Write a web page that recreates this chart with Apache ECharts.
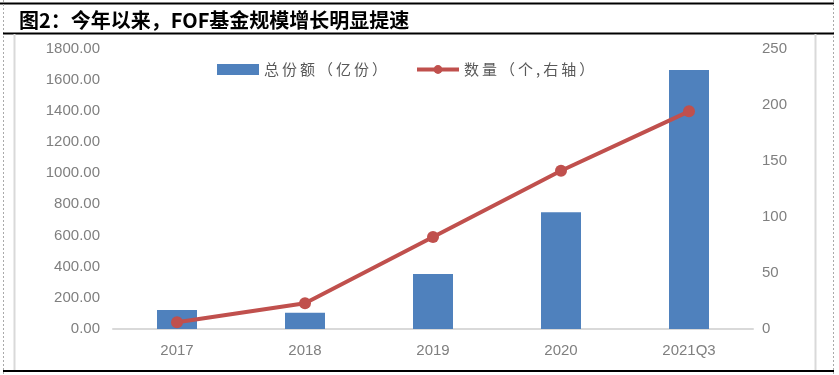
<!DOCTYPE html>
<html><head><meta charset="utf-8">
<script src="https://cdn.jsdelivr.net/npm/echarts@6/dist/echarts.min.js"></script>
<style>html,body{margin:0;padding:0;background:#fff}#c{width:839px;height:375px}</style>
</head><body><div id="c"></div>
<script>
const categories = ['2017', '2018', '2019', '2020', '2021Q3'];
const totalShares = [122, 104, 353, 750, 1662];
const fundCount = [6, 23, 82, 141, 194];
const leftTicks = [0, 200, 400, 600, 800, 1000, 1200, 1400, 1600, 1800];
const rightTicks = [0, 50, 100, 150, 200, 250];

const chart = echarts.init(document.getElementById('c'));
const labelFont = {color: '#7f7f7f', fontSize: 15, fontFamily: 'Liberation Sans'};
const spaced = s => Array.from(s).join('\u2009');
chart.setOption({
  animation: false,
  title: {
    text: '图2：今年以来，FOF基金规模增长明显提速',
    left: 14, top: 5,
    textStyle: {fontFamily: 'Noto Sans CJK SC', fontSize: 20, fontWeight: 'bold', color: '#000'}
  },
  legend: {
    top: 57, left: 212, itemGap: 28,
    textStyle: {fontFamily: 'Noto Sans CJK SC', fontSize: 15, color: '#595959'},
    formatter: name => spaced(name),
    data: [
      {name: '总份额（亿份）', icon: 'rect', itemStyle: {color: '#4F81BD'}},
      {name: '数量（个,右轴）', lineStyle: {width: 4, color: '#C0504D'}}
    ],
    itemWidth: 42, itemHeight: 11
  },
  grid: {left: 113, right: 86, top: 48.5, bottom: 46},
  xAxis: {
    type: 'category', data: categories,
    axisLine: {lineStyle: {color: '#d9d9d9', width: 2}},
    axisTick: {show: false},
    axisLabel: Object.assign({margin: 14}, labelFont)
  },
  yAxis: [
    {type: 'value', min: leftTicks[0], max: leftTicks[leftTicks.length-1], interval: 200,
     axisLine: {show: false}, splitLine: {show: false},
     axisLabel: Object.assign({margin: 13, formatter: v => v.toFixed(2)}, labelFont)},
    {type: 'value', min: rightTicks[0], max: rightTicks[rightTicks.length-1], interval: 50,
     axisLine: {show: false}, splitLine: {show: false},
     axisLabel: Object.assign({margin: 9}, labelFont)}
  ],
  series: [
    {name: '总份额（亿份）', type: 'bar', data: totalShares, barWidth: 40,
     itemStyle: {color: '#4F81BD'}},
    {name: '数量（个,右轴）', type: 'line', yAxisIndex: 1, data: fundCount,
     symbol: 'circle', symbolSize: 12,
     lineStyle: {color: '#C0504D', width: 4}, itemStyle: {color: '#C0504D'}}
  ],
  graphic: [
    {type: 'line', shape: {x1: 0, y1: 3.5, x2: 834, y2: 3.5}, style: {stroke: '#000', lineWidth: 2}},
    {type: 'line', shape: {x1: 3.5, y1: 0, x2: 3.5, y2: 375}, style: {stroke: '#aaa', lineWidth: 1, lineDash: [2, 2]}},
    {type: 'line', shape: {x1: 833.5, y1: 0, x2: 833.5, y2: 375}, style: {stroke: '#aaa', lineWidth: 1, lineDash: [2, 2]}},
    {type: 'line', shape: {x1: 3, y1: 33.5, x2: 834, y2: 33.5}, style: {stroke: '#000', lineWidth: 2}},
    {type: 'line', shape: {x1: 3, y1: 371, x2: 834, y2: 371}, style: {stroke: '#000', lineWidth: 2}},
    {type: 'line', shape: {x1: 14.5, y1: 34, x2: 14.5, y2: 370}, style: {stroke: '#d9d9d9', lineWidth: 2}},
    {type: 'line', shape: {x1: 815.5, y1: 34, x2: 815.5, y2: 370}, style: {stroke: '#d9d9d9', lineWidth: 2}}
  ]
});
</script></body></html>
